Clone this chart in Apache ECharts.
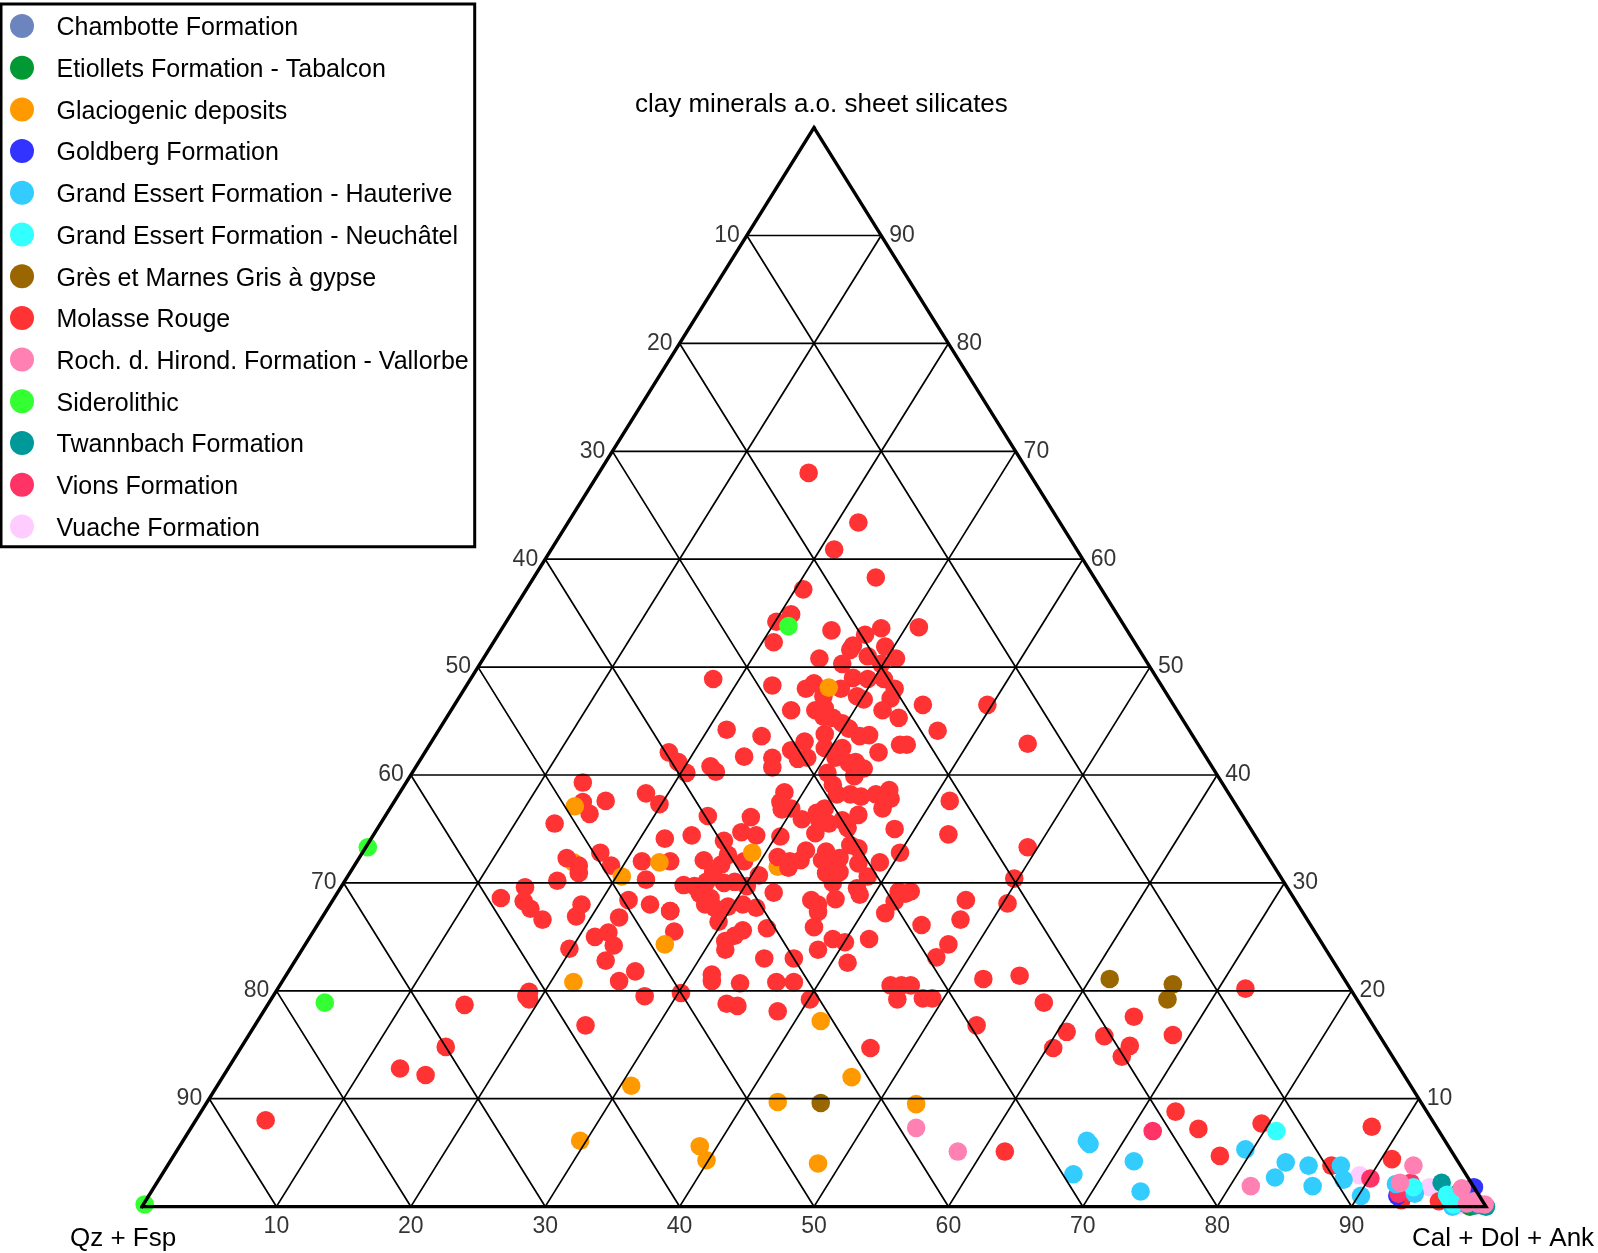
<!DOCTYPE html>
<html><head><meta charset="utf-8">
<style>html,body{margin:0;padding:0;background:#fff}#c{width:1598px;height:1253px}</style>
<script src="https://cdn.jsdelivr.net/npm/echarts@6/dist/echarts.min.js"></script>
</head><body><div id="c"></div>
<script>
// Every point: [position along the base scale %, clay minerals %]
const chambotte=[[98.4,.3],[99.5,.2]];
const etiollets=[[98.8,0],[99.7,.1]];
const glaciogenicBehind=[[32.1,31.9],[47.3,31.5]];
const glaciogenic=[[32.2,37.1],[35.7,30.6],[38.5,31.9],[45.4,32.8],[38.9,24.3],[32.1,20.8],[51.1,48.1],[50.5,17.2],[52.8,12],[36.4,11.2],[47.3,9.7],[57.6,9.5],[32.6,6.1],[41.5,5.6],[42,4.3],[50.3,4]];
const goldberg=[[93.4,1],[98.2,.6],[99.1,1.8]];
const hauterive=[[70.3,6.1],[70.5,5.8],[69.3,3],[73.8,4.2],[74.3,1.4],[82.1,5.3],[85.1,4.1],[84.3,2.7],[86.8,3.8],[87.1,1.9],[89.2,3.8],[89.4,2.5],[90.7,1],[93.3,2.1],[94.7,1.2],[97.5,0]];
const neuchatel=[[84.4,7],[94.6,1.8],[97.1,1.1],[97.3,.7],[97.6,.2]];
const gresMarnes=[[72,21.1],[76.7,20.6],[76.3,19.2],[50.5,9.6]];
const molasse=[[49.6,68],[53.3,63.4],[51.5,60.9],[54.6,58.3],[49.2,57.2],[48.3,54.9],[47.2,54.2],[47,52.3],[51.3,53.4],[53.8,53],[55,53.6],[57.8,53.7],[52.9,52],[52.7,51.6],[55.3,51.9],[54,51],[56.1,50.8],[55,50.3],[50.4,50.8],[52.1,50.3],
[42.5,48.9],[46.9,48.3],[50,48.5],[49.4,48],[52,48],[52.9,49],[54,48.9],[55.2,48.9],[56,48],[53.2,47.3],[53.7,47],[55.7,47.1],[55.1,46],[58.1,46.5],[62.9,46.5],[48.3,46],[50.7,47.3],[50.1,46],[50.8,46.2],[51.4,45.3],[50.7,45.4],[56.3,45.3],[52.1,44.8],[52.6,44.3],[43.5,44.2],[46.1,43.6],[50.8,43.8],[49.3,43.1],[53.4,43.6],[54.1,43.7],[59.2,44.1],[56.4,42.8],[56.9,42.8],[65.9,42.9],
[48.3,42.3],[44.8,41.7],[46.9,41.6],[46.9,40.7],[48.8,41.5],[49.5,41.6],[50.8,42.5],[52.1,42.5],[51.6,41.6],[54.8,42.1],[53.1,41.2],[53.7,40.6],[52.6,41.1],[53,39.9],[51,40.2],[51.4,39.1],[51.7,38.2],[52.7,38.2],[53.5,38],[54.6,38.2],[55.6,38.6],[55.7,37.8],[55.1,36.9],[53.3,36.3],[60.1,37.6],[60,34.5],[56,35],[56.4,32.8],[65.9,33.3],
[47.8,38.4],[47.5,37.5],[47.6,36.8],[48.3,36.9],[45.3,36.1],[49.1,35.9],[50.2,36.5],[50.8,36.9],[50.4,35.8],[51.1,35.5],[52.1,35.8],[50.1,34.6],[52.5,35.1],[44.6,34.7],[45.7,34.4],[47.5,34.3],[43.3,33.9],[49.4,33],[47.3,32.4],[49,32.1],[48.2,32],[48.1,31.4],[50.9,32.9],[50.6,32.1],[51.9,32.3],[52.7,33.5],[53.3,33.2],[51.2,31.7],[50.9,30.9],[51.9,31],[51.4,30],[53.3,31.8],[54.9,31.9],[54,30.6],[53.2,29.5],[53.4,28.9],[51.6,28.5],[49.8,28.4],[50.3,28],[50.3,27.3],[50,25.9],[47,29.1],[45.9,30.7],[44.8,32],
[56.3,29.2],[57.2,29.2],[56.8,29],[56,28.3],[55.3,27.2],[58,26.1],[61.3,28.4],[64.4,28.1],[64.9,30.4],[60.9,26.6],[60,24.3],[59.1,23.1],[54.1,24.8],[51.4,24.8],[52.3,24.5],[50.3,23.8],[52.5,22.6],[46.5,25.8],[44.7,25.6],[44.1,25.1],[43.4,24.6],[43.4,23.8],[46.3,23],[48.5,23],[44.5,20.7],[47.2,20.8],[48.5,20.8],[62.6,21.1],[65.3,21.4],[55.7,20.5],[56.5,20.5],[57.2,20.5],[56.2,19.2],[58.1,19.3],[58.8,19.3],[49.7,19.2],[43.5,18.8],[44.3,18.6],[47.3,18.1],[62.1,16.8],
[42.1,36.2],[40.9,34.4],[38.9,34.1],[39.3,32],[41.8,32.1],[43.6,32.6],[43.1,31.7],[42.5,31],[40.3,29.8],[41.1,29.7],[42,30.1],[44.1,30.1],[45,29.7],[43.3,30],[41.5,29],[42.3,28.6],[41.9,28],[42.6,27.7],[43.6,27.8],[44.7,28],[45.7,27.7],[39.3,27.4],[42.9,26.4],[39.6,25.5],
[39.2,42.1],[39.9,41.2],[40.5,40.2],[42.3,40.8],[42.7,40.3],[32.8,39.3],[34.5,37.6],[32.8,37.5],[33.3,36.4],[37.5,38.3],[38.5,37.3],[30.7,35.5],[34.1,32.8],[34.9,31.6],[31.6,32.3],[32.5,31.6],[32.5,30.9],[30.9,30.2],[37.2,32],[37.5,30.3],[28.5,29.6],[26.7,28.6],[28.4,28.3],[28.9,27.6],[29.8,26.6],[32.7,28],[32.3,26.9],[36.2,28.4],[37.8,28],[39.3,27.4],[35.5,26.8],[33.7,25],[34.7,25.4],
[31.8,23.9],[35.1,24.2],[34.5,22.8],[36.7,21.8],[35.5,20.9],[28.8,19.9],[28.6,19.5],[28.8,19.2],[37.4,19.5],[40.1,19.8],[33,16.8],[42.4,21.5],[42.4,20.9],
[54.2,14.7],[64.2,5.1],[67.8,14.7],[68.8,16.2],[67.1,18.9],[71.6,15.8],[73.8,17.6],[73.5,14.9],[72.9,13.9],[76.7,15.9],[82.1,20.2],[76.9,8.8],[78.6,7.2],[80.2,4.7],[83.3,7.7],[88.5,3.8],[91.5,7.4],[93,4.4],[93.7,.6],[96.5,.5],
[24,18.7],[22.6,14.8],[19.2,12.8],[21.1,12.2],[9.2,8]];
const rochHirond=[[57.6,7.3],[60.7,5.1],[82.5,1.9],[94.6,3.8],[93.6,2.2],[98.2,1.7],[99.1,.5],[99.9,.2],[98.6,.3],[99.4,.3]];
const siderolithic=[[.2,.2],[16.8,33.3],[13.6,18.9],[48.1,53.8]];
const twannbach=[[96.7,2.2],[97.9,1.2],[100,0],[99.2,.1]];
const vions=[[75.2,7],[91.4,2.6],[93.5,1.2],[94.4,2.2]];
const vuache=[[90.6,2.9],[95.8,1.8],[98,.1]];

const legendNames=['Chambotte Formation','Etiollets Formation - Tabalcon','Glaciogenic deposits','Goldberg Formation','Grand Essert Formation - Hauterive','Grand Essert Formation - Neuchâtel','Grès et Marnes Gris à gypse','Molasse Rouge','Roch. d. Hirond. Formation - Vallorbe','Siderolithic','Twannbach Formation','Vions Formation','Vuache Formation'];
const colors=['#6D85BE','#009933','#FF9900','#3333FF','#33CCFF','#33FFFF','#996600','#FF3333','#FF80B3','#33FF33','#009999','#FF3366','#FFCCFF'];
const ticks=[10,20,30,40,50,60,70,80,90];
const leftLabels=['90','80','70','60','50','40','30','20','10'];   // at clay = 10 … 90
const rightLabels=['10','20','30','40','50','60','70','80','90']; // at clay = 10 … 90
const bottomLabels=['10','20','30','40','50','60','70','80','90'];

const FONT='"Liberation Sans", Arial, sans-serif';
const pts=(i,data)=>({type:'scatter',name:legendNames[i],data,symbol:'circle',symbolSize:18.6,clip:false,silent:true,z:2,
  itemStyle:{color:colors[i],opacity:1},emphasis:{disabled:true}});
const line=(data,w)=>({type:'line',data,symbol:'none',silent:true,clip:false,z:5,animation:false,
  lineStyle:{color:'#000',width:w,join:'miter',cap:'square'}});
const labels=(data,texts,position,distance)=>({type:'scatter',data,symbolSize:0,silent:true,clip:false,z:6,
  label:{show:true,position,distance,color:'#000',fontFamily:FONT,fontSize:23,formatter:p=>texts[p.dataIndex]}});

const gridLines=[];
ticks.forEach(t=>{
  gridLines.push(line([[t/2,t],[100-t/2,t]],1.7));
  gridLines.push(line([[t,0],[t/2,t]],1.7));
  gridLines.push(line([[t,0],[(100+t)/2,100-t]],1.7));
});

const chart=echarts.init(document.getElementById('c'),null,{renderer:'canvas'});
chart.setOption({
  animation:false,
  backgroundColor:'#fff',
  grid:{left:142,top:127.6,width:1344,height:1079,containLabel:false},
  xAxis:{type:'value',min:0,max:100,show:false},
  yAxis:{type:'value',min:0,max:100,show:false},
  legend:{data:legendNames,orient:'vertical',left:1,top:4,padding:[10,6,5.4,9],itemWidth:25,itemHeight:24,itemGap:14.7,
    icon:'circle',selectedMode:false,borderColor:'#000',borderWidth:3,backgroundColor:'#fff',z:10,
    formatter:'{t|{name}}',
    textStyle:{fontFamily:FONT,fontSize:25,color:'#000',padding:[0,0,0,17],
      rich:{t:{fontFamily:FONT,fontSize:25,color:'#000',padding:[5,0,0,0]}}}},
  series:[
    pts(2,glaciogenicBehind),
    pts(12,vuache),
    pts(7,molasse),
    pts(3,goldberg),
    pts(2,glaciogenic),
    pts(6,gresMarnes),
    pts(9,siderolithic),
    pts(1,etiollets),
    pts(11,vions),
    pts(4,hauterive),
    pts(10,twannbach),
    pts(0,chambotte),
    pts(5,neuchatel),
    pts(8,rochHirond),
    ...gridLines,
    line([[0,0],[50,100],[100,0],[0,0],[50,100]],3.4),
    labels(ticks.map(t=>[t/2,t]),leftLabels,'left',7),
    labels(ticks.map(t=>[100-t/2,t]),rightLabels,'right',8),
    labels(ticks.map(t=>[t,0]),bottomLabels,'bottom',9)
  ],
  graphic:[
    {type:'text',left:635,top:92,z:20,style:{text:'clay minerals a.o. sheet silicates',font:'26px '+FONT,fill:'#000'}},
    {type:'text',left:70,top:1226,z:20,style:{text:'Qz + Fsp',font:'26px '+FONT,fill:'#000'}},
    {type:'text',left:1412,top:1226,z:20,style:{text:'Cal + Dol + Ank',font:'26px '+FONT,fill:'#000'}}
  ]
});
</script></body></html>
